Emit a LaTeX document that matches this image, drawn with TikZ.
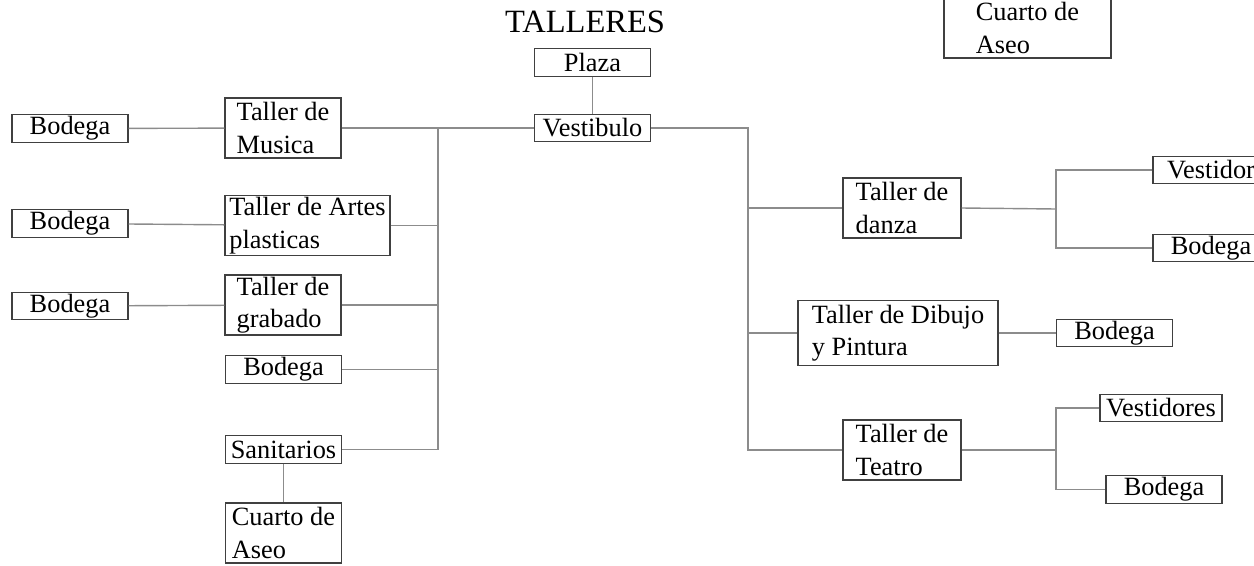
\documentclass[tikz,border=0pt]{standalone}
\usepackage{fontspec}
\setmainfont{Liberation Serif}
\usetikzlibrary{positioning,calc}

\begin{document}
\begin{tikzpicture}[
    x=0.02cm, y=-0.02cm,
    room/.style={draw=black!75, line width=0.8pt, inner sep=1pt, minimum width=2.32cm, minimum height=0.55cm, align=left, font=\fontsize{15}{18.5}\selectfont},
    tall/.style={minimum height=1.2cm},
    link/.style={draw=black!45, line width=0.8pt},
  ]
  \useasboundingbox (0,0) rectangle (1254,565);

  % Title
  \node[anchor=base, font=\fontsize{18.5}{20}\selectfont] (title) at (585,32) {TALLERES};

  % Centre
  \node[room] (plaza) at (592.5,62.5) {Plaza};
  \node[room] (vest) at (592.5,128) {Vestibulo};
  \node[room, tall, minimum width=3.34cm] (aseoR) at (1027.5,28) {Cuarto de\\Aseo};

  % Left wing
  \node[room] (bodMus) at (70,128.5) {Bodega};
  \node[room, tall] (musica) at (283,128) {Taller de\\Musica};
  \node[room] (bodArt) at (70,223.5) {Bodega};
  \node[room, minimum width=3.3cm, minimum height=1.18cm] (artes) at (307.5,225.5) {Taller de Artes\\plasticas};
  \node[room] (bodGra) at (70,306) {Bodega};
  \node[room, tall] (grabado) at (283,305) {Taller de\\grabado};
  \node[room] (bodLat) at (283.5,369.5) {Bodega};
  \node[room] (sanit) at (283.5,449.5) {Sanitarios};
  \node[room, tall] (aseoL) at (283.5,533) {Cuarto de\\Aseo};

  % Right wing
  \node[room, tall, minimum width=2.36cm] (danza) at (902,208) {Taller de\\danza};
  \node[room] (vestidor) at (1211,170) {Vestidor};
  \node[room] (bodDan) at (1211,248) {Bodega};
  \node[room, minimum width=4cm, minimum height=1.3cm] (dibujo) at (898,333) {Taller de Dibujo\\y Pintura};
  \node[room] (bodDib) at (1114.5,333) {Bodega};
  \node[room, tall, minimum width=2.36cm] (teatro) at (902,450) {Taller de\\Teatro};
  \node[room, minimum width=2.44cm] (vestidores) at (1161,408) {Vestidores};
  \node[room] (bodTea) at (1164,489.5) {Bodega};

  % Junctions
  \coordinate (lt) at (438,128);
  \coordinate (rt) at (748,128);
  \coordinate (rb1) at (1056,209);
  \coordinate (rb2) at (1056,450);

  % Connectors
  \draw[link] (plaza) -- (vest);
  \draw[link] (bodMus) -- (musica);
  \draw[link] (musica.east) -- (vest.west);
  \draw[link] (lt) |- (sanit.east);
  \draw[link] (bodArt) -- (artes);
  \draw[link] (artes.east) -- (artes.east -| lt);
  \draw[link] (bodGra) -- (grabado);
  \draw[link] (grabado.east) -- (grabado.east -| lt);
  \draw[link] (bodLat.east) -- (bodLat.east -| lt);
  \draw[link] (sanit) -- (aseoL);

  \draw[link] (vest.east) -- (rt) |- (teatro.west);
  \draw[link] (rt |- danza.west) -- (danza.west);
  \draw[link] (rt |- dibujo.west) -- (dibujo.west);
  \draw[link] (danza.east) -- (rb1);
  \draw[link] (vestidor.west) -| (rb1) |- (bodDan.west);
  \draw[link] (dibujo) -- (bodDib);
  \draw[link] (teatro.east) -- (rb2);
  \draw[link] (vestidores.west) -| (rb2) |- (bodTea.west);
\end{tikzpicture}
\end{document}
